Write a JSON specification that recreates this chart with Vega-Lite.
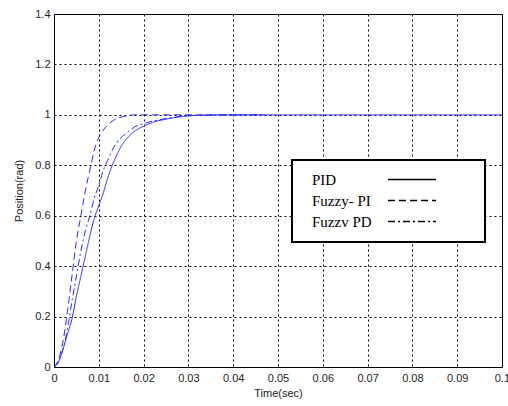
{
  "$schema": "https://vega.github.io/schema/vega-lite/v6.json",
  "width": 448,
  "height": 353,
  "autosize": "none",
  "padding": {"left": 54, "top": 14, "right": 6, "bottom": 39},
  "background": "white",
  "config": {
    "view": {"stroke": "black", "strokeWidth": 1},
    "axis": {
      "domain": false,
      "ticks": false,
      "grid": true,
      "gridColor": "black",
      "gridOpacity": 1,
      "gridDash": [2, 3],
      "gridWidth": 1,
      "labelFont": "Liberation Sans",
      "labelFontSize": 11,
      "labelColor": "#222",
      "titleFont": "Liberation Sans",
      "titleFontSize": 11,
      "titleFontWeight": "normal",
      "titleColor": "#222"
    }
  },
  "data": {
    "values": [
      {"t": 0, "y": 0, "s": "PID"},
      {"t": 0.001, "y": 0.02, "s": "PID"},
      {"t": 0.002, "y": 0.07, "s": "PID"},
      {"t": 0.003, "y": 0.13, "s": "PID"},
      {"t": 0.004, "y": 0.19, "s": "PID"},
      {"t": 0.005, "y": 0.28, "s": "PID"},
      {"t": 0.006, "y": 0.36, "s": "PID"},
      {"t": 0.007, "y": 0.44, "s": "PID"},
      {"t": 0.008, "y": 0.52, "s": "PID"},
      {"t": 0.009, "y": 0.59, "s": "PID"},
      {"t": 0.010, "y": 0.64, "s": "PID"},
      {"t": 0.011, "y": 0.69, "s": "PID"},
      {"t": 0.012, "y": 0.75, "s": "PID"},
      {"t": 0.013, "y": 0.80, "s": "PID"},
      {"t": 0.014, "y": 0.84, "s": "PID"},
      {"t": 0.015, "y": 0.875, "s": "PID"},
      {"t": 0.016, "y": 0.90, "s": "PID"},
      {"t": 0.018, "y": 0.935, "s": "PID"},
      {"t": 0.020, "y": 0.955, "s": "PID"},
      {"t": 0.022, "y": 0.97, "s": "PID"},
      {"t": 0.025, "y": 0.983, "s": "PID"},
      {"t": 0.028, "y": 0.992, "s": "PID"},
      {"t": 0.032, "y": 0.998, "s": "PID"},
      {"t": 0.036, "y": 1.0, "s": "PID"},
      {"t": 0.1, "y": 1.0, "s": "PID"},
      {"t": 0, "y": 0, "s": "Fuzzy- PI"},
      {"t": 0.001, "y": 0.03, "s": "Fuzzy- PI"},
      {"t": 0.002, "y": 0.1, "s": "Fuzzy- PI"},
      {"t": 0.003, "y": 0.22, "s": "Fuzzy- PI"},
      {"t": 0.004, "y": 0.36, "s": "Fuzzy- PI"},
      {"t": 0.005, "y": 0.5, "s": "Fuzzy- PI"},
      {"t": 0.006, "y": 0.6, "s": "Fuzzy- PI"},
      {"t": 0.007, "y": 0.7, "s": "Fuzzy- PI"},
      {"t": 0.008, "y": 0.78, "s": "Fuzzy- PI"},
      {"t": 0.009, "y": 0.86, "s": "Fuzzy- PI"},
      {"t": 0.010, "y": 0.91, "s": "Fuzzy- PI"},
      {"t": 0.011, "y": 0.94, "s": "Fuzzy- PI"},
      {"t": 0.012, "y": 0.96, "s": "Fuzzy- PI"},
      {"t": 0.013, "y": 0.975, "s": "Fuzzy- PI"},
      {"t": 0.014, "y": 0.985, "s": "Fuzzy- PI"},
      {"t": 0.016, "y": 0.995, "s": "Fuzzy- PI"},
      {"t": 0.018, "y": 1.0, "s": "Fuzzy- PI"},
      {"t": 0.047, "y": 1.0, "s": "Fuzzy- PI"},
      {"t": 0, "y": 0, "s": "Fuzzv PD"},
      {"t": 0.001, "y": 0.02, "s": "Fuzzv PD"},
      {"t": 0.002, "y": 0.07, "s": "Fuzzv PD"},
      {"t": 0.003, "y": 0.15, "s": "Fuzzv PD"},
      {"t": 0.004, "y": 0.26, "s": "Fuzzv PD"},
      {"t": 0.005, "y": 0.36, "s": "Fuzzv PD"},
      {"t": 0.006, "y": 0.46, "s": "Fuzzv PD"},
      {"t": 0.007, "y": 0.54, "s": "Fuzzv PD"},
      {"t": 0.008, "y": 0.6, "s": "Fuzzv PD"},
      {"t": 0.009, "y": 0.67, "s": "Fuzzv PD"},
      {"t": 0.010, "y": 0.72, "s": "Fuzzv PD"},
      {"t": 0.011, "y": 0.78, "s": "Fuzzv PD"},
      {"t": 0.012, "y": 0.82, "s": "Fuzzv PD"},
      {"t": 0.013, "y": 0.86, "s": "Fuzzv PD"},
      {"t": 0.014, "y": 0.89, "s": "Fuzzv PD"},
      {"t": 0.016, "y": 0.925, "s": "Fuzzv PD"},
      {"t": 0.018, "y": 0.952, "s": "Fuzzv PD"},
      {"t": 0.020, "y": 0.965, "s": "Fuzzv PD"},
      {"t": 0.022, "y": 0.975, "s": "Fuzzv PD"},
      {"t": 0.025, "y": 0.985, "s": "Fuzzv PD"},
      {"t": 0.028, "y": 0.993, "s": "Fuzzv PD"},
      {"t": 0.032, "y": 0.998, "s": "Fuzzv PD"},
      {"t": 0.047, "y": 1.0, "s": "Fuzzv PD"}
    ]
  },
  "mark": {"type": "line", "color": "#2a2aff", "strokeWidth": 1, "interpolate": "monotone", "clip": true},
  "encoding": {
    "x": {
      "field": "t", "type": "quantitative",
      "scale": {"domain": [0, 0.1], "nice": false},
      "axis": {"values": [0, 0.01, 0.02, 0.03, 0.04, 0.05, 0.06, 0.07, 0.08, 0.09, 0.1], "labelExpr": "datum.value == 0 ? '0' : format(datum.value, '.2~f')", "labelPadding": 5, "title": "Time(sec)", "titlePadding": 4, "labelFlush": false}
    },
    "y": {
      "field": "y", "type": "quantitative",
      "scale": {"domain": [0, 1.4], "nice": false},
      "axis": {"values": [0, 0.2, 0.4, 0.6, 0.8, 1, 1.2, 1.4], "labelExpr": "format(datum.value, '~g')", "labelPadding": 4, "title": "Position(rad)", "titlePadding": 10, "labelFlush": false}
    },
    "strokeDash": {
      "field": "s", "type": "nominal",
      "scale": {"domain": ["PID", "Fuzzy- PI", "Fuzzv PD"], "range": [[1, 0], [7, 4], [7, 3, 2, 3]]},
      "legend": {
        "title": null,
        "orient": "none",
        "legendX": 238,
        "legendY": 146,
        "padding": 12,
        "fillColor": "white",
        "strokeColor": "black",
        "cornerRadius": 0,
        "symbolType": "M -4.8 0 L 4.8 0 M 11.5 0",
        "symbolSize": 100,
        "symbolStrokeWidth": 1.5,
        "symbolStrokeColor": "black",
        "symbolOffset": 100.5,
        "labelOffset": -107.5,
        "labelFont": "Liberation Serif",
        "labelFontSize": 15,
        "labelColor": "black",
        "rowPadding": 5,
        "encode": {"legend": {"update": {"strokeWidth": {"value": 2}}}}
      }
    }
  }
}
